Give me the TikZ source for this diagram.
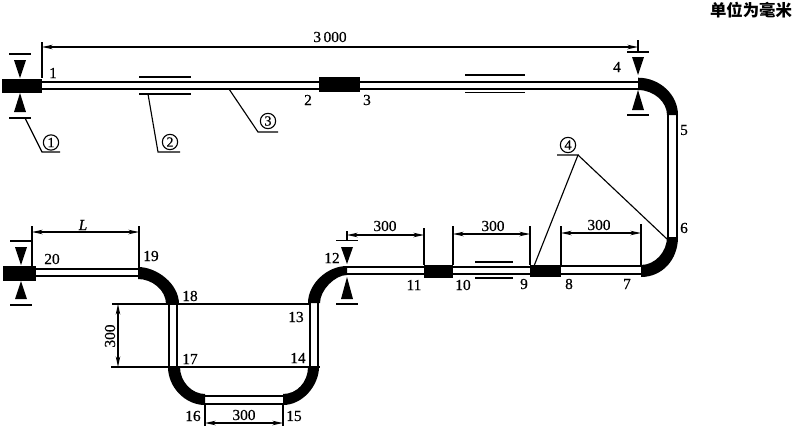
\documentclass[tikz,border=0pt]{standalone}
\usepackage{fontspec}
\newfontfamily\cjk{Noto Sans CJK SC}
\newfontfamily\labfont{Liberation Serif}[FakeBold=0.6]
\usetikzlibrary{arrows.meta}
\tikzset{
  pipe/.style={line width=1.5pt,double,double distance=3.9pt},
  pipewide/.style={line width=1.5pt,double,double distance=5pt},
  thin line/.style={line width=0.85pt},
  bar/.style={line width=1.2pt},
  dim/.style={line width=0.85pt,{Stealth[length=8pt,width=3.4pt]}-{Stealth[length=8pt,width=3.4pt]}},
  lab/.style={font=\labfont\fontsize{11.5}{13}\selectfont,inner sep=0pt},
  circ/.style={circle,draw,line width=0.85pt,inner sep=0pt,minimum size=11.5pt,font=\labfont\fontsize{10.5}{12}\selectfont},
}
% section mark: x, top bar, top triangle, top apex, lower apex, lower triangle, lower bar
\newcommand{\cutmark}[7]{
  \draw[bar] (#1-11,#2) -- (#1+11,#2);
  \fill (#1-6,#3) -- (#1+6,#3) -- (#1,#4) -- cycle;
  \fill (#1-6,#6) -- (#1+6,#6) -- (#1,#5) -- cycle;
  \draw[bar] (#1-11,#7) -- (#1+11,#7);
}
\begin{document}
\begin{tikzpicture}[x=0.75pt,y=0.75pt,yscale=-1,xscale=1]
\useasboundingbox (0,0) rectangle (800,429);

%Straight pipes
\draw[pipe] (42,85.3) -- (638,85.3);
\draw[pipewide] (672.5,115) -- (672.5,237);
\draw[pipe] (561,270) -- (641,270);
\draw[pipe] (347,270.5) -- (530,270.5);
\draw[pipe] (314,303) -- (314,367);
\draw[pipe] (205,400) -- (283,400);
\draw[pipe] (173,304) -- (173,367);
\draw[pipe] (36,272.5) -- (138,272.5);

%Flanges
\fill (2,78.5) rectangle (42,93);
\fill (319,77) rectangle (360,92);
\fill (530,265) rectangle (561,277);
\fill (424,265) rectangle (453,278);
\fill (3,266) rectangle (36,280.7);

%Elbows
\fill (638,77.7) .. controls (660,77.7) and (678,95) .. (678,115) -- (667,115) .. controls (667,102) and (654,90) .. (638,90) -- cycle;
\fill (678,237) .. controls (678,260) and (662,277) .. (641,277) -- (641,265) .. controls (655,265) and (667,252) .. (667,237) -- cycle;
\fill (347,266) .. controls (327,266) and (308,284) .. (308,303) -- (320,303) .. controls (320,290) and (335,275) .. (347,275) -- cycle;
\fill (319,367) .. controls (319,385) and (303,405) .. (283,405) -- (283,394) .. controls (297,394) and (308,382) .. (308,367) -- cycle;
\fill (168,367) .. controls (168,387) and (185,405) .. (205,405) -- (205,394) .. controls (192,394) and (180,382) .. (180,367) -- cycle;
\fill (138,267) .. controls (157,267) and (179,284) .. (179,304) -- (166,304) .. controls (166,290) and (152,279) .. (138,279) -- cycle;

%Backing bars
\draw[bar] (139,76.7) -- (191,76.7);
\draw[bar] (139,94) -- (191,94);
\draw[bar] (465,75) -- (525,75);
\draw[bar] (465,92.5) -- (525,92.5);
\draw[bar] (475,262) -- (513,262);
\draw[bar] (475,278) -- (513,278);

%Section marks
\cutmark{20}{54}{60}{78}{93}{112}{118}
\cutmark{638}{52}{57}{75}{90}{110}{115}
\cutmark{347}{240.5}{247}{264}{277}{299}{304}
\cutmark{21}{241}{247}{265}{281}{299}{305}

%Extension lines
\draw[thin line] (42,42) -- (42,78);
\draw[thin line] (638,40) -- (638,52);
\draw[thin line] (32,226) -- (32,266);
\draw[thin line] (139,226) -- (139,267);
\draw[thin line] (347,231) -- (347,240);
\draw[thin line] (424,228) -- (424,265);
\draw[thin line] (453,226) -- (453,265);
\draw[thin line] (530,226) -- (530,265);
\draw[thin line] (561,226) -- (561,265);
\draw[thin line] (641,224) -- (641,265);
\draw[thin line] (112,304) -- (310,304);
\draw[thin line] (111,367) -- (320,367);
\draw[thin line] (205,405) -- (205,426);
\draw[thin line] (283,405) -- (283,426);

%Dimension lines
\draw[dim] (42,47) -- (638,47);
\draw[dim] (32,232) -- (139,232);
\draw[dim] (347,235) -- (424,235);
\draw[dim] (453,234) -- (530,234);
\draw[dim] (561,233) -- (641,233);
\draw[dim] (118,304) -- (118,367);
\draw[dim] (205,423) -- (283,423);

%Leaders
\draw[thin line] (25,118) -- (42,152) -- (60,152);
\draw[thin line] (148,94) -- (158,152) -- (180,152);
\draw[thin line] (229,89) -- (258,132) -- (278,132);
\draw[thin line] (534,266) -- (578,155) -- (557,155);
\draw[thin line] (578,155) -- (667,239);

% Text Node
\node[circ] (part1) at (51,142.5) {1};
\node[circ] (part2) at (170,142) {2};
\node[circ] (part3) at (268,121) {3};
\node[circ] (part4) at (568,145) {4};
\node[lab] (dimtop) at (330,37) {3\,000};
\node[lab] (dimL) at (83,225) {\itshape L};
\node[lab] (dimc) at (385,226) {300};
\node[lab] (dimb) at (493,226) {300};
\node[lab] (dima) at (599,225) {300};
\node[lab,rotate=90] (dimd) at (110,336) {300};
\node[lab] (dime) at (244,415) {300};
\node[lab] (w1) at (53,73) {1};
\node[lab] (w2) at (308,100) {2};
\node[lab] (w3) at (367,100) {3};
\node[lab] (w4) at (617,67) {4};
\node[lab] (w5) at (684,130) {5};
\node[lab] (w6) at (684,228) {6};
\node[lab] (w7) at (627,284) {7};
\node[lab] (w8) at (569,284) {8};
\node[lab] (w9) at (524,284) {9};
\node[lab] (w10) at (463,285) {10};
\node[lab] (w11) at (414,285) {11};
\node[lab] (w12) at (332,258) {12};
\node[lab] (w13) at (296,317) {13};
\node[lab] (w14) at (298,358) {14};
\node[lab] (w15) at (294,416) {15};
\node[lab] (w16) at (193,416) {16};
\node[lab] (w17) at (190,359) {17};
\node[lab] (w18) at (190,296) {18};
\node[lab] (w19) at (151,256) {19};
\node[lab] (w20) at (52,259) {20};
\node[inner sep=0pt,font=\cjk\bfseries\fontsize{12.3}{14}\selectfont] (unit) at (751,10) {单位为毫米};

\end{tikzpicture}
\end{document}
